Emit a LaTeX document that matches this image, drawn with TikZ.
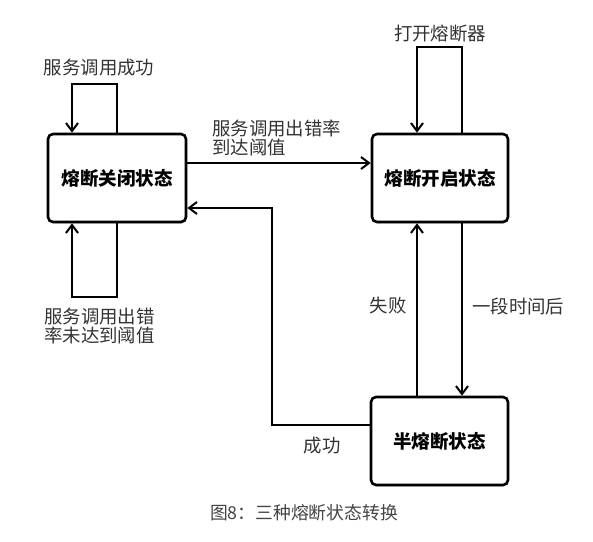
\documentclass[tikz,border=0pt]{standalone}
\usepackage{fontspec}
\newfontfamily\cjk{Noto Sans CJK SC}
\usetikzlibrary{arrows.meta,shadows}
\definecolor{lbl}{HTML}{333333}
\definecolor{cap}{HTML}{444444}
\tikzset{
  state/.style={draw=black,line width=2.6pt,rounded corners=5pt,fill=white,
    minimum width=#1,minimum height=88pt,inner sep=0pt,
    font=\cjk\bfseries\fontsize{18.5}{19}\selectfont,
    drop shadow={shadow xshift=1pt,shadow yshift=-1.5pt,opacity=0.35}},
  conn/.style={line width=2.2pt,-{Straight Barb[length=8pt,width=12pt,line width=2pt]}},
  lab/.style={text=lbl,inner sep=0pt,font=\cjk\fontsize{18.4}{18.5}\selectfont},
}
\begin{document}
\begin{tikzpicture}[x=1pt,y=-1pt]
\useasboundingbox (0,0) rectangle (593,541);
\node[state=138pt] (A) at (117,178) {熔断关闭状态};
\node[state=136pt] (B) at (440,178) {熔断开启状态};
\node[state=137pt] (C) at (439.5,441) {半熔断状态};
% A top loop
\coordinate (a1) at (117,84);
\coordinate (a2) at (72,84);
\draw[conn] (A.north) -- (a1) -- (a2) -- (a2 |- A.north);
\node[lab] (la1) at (99,68) {服务调用成功};
% A bottom loop
\coordinate (a3) at (117,297);
\coordinate (a4) at (72,297);
\draw[conn] (A.south) -- (a3) -- (a4) -- (a4 |- A.south);
\node[lab,anchor=north west,align=left] (la2) at (44,308) {服务调用出错\\率未达到阈值};
% B top loop
\coordinate (b1) at (462,47);
\coordinate (b2) at (417,47);
\draw[conn] (b1 |- B.north) -- (b1) -- (b2) -- (b2 |- B.north);
\node[lab] (lb1) at (440,33) {打开熔断器};
% A -> B
\coordinate (ab) at (200,163);
\draw[conn] (A.east |- ab) -- (B.west |- ab);
\node[lab,anchor=north west,align=left] (lab1) at (212,120) {服务调用出错率\\到达阈值};
% B -> C
\coordinate (bc) at (462,300);
\draw[conn] (bc |- B.south) -- (bc |- C.north);
\node[lab,anchor=west] (lbc) at (472,306) {一段时间后};
% C -> B
\coordinate (cb) at (417,300);
\draw[conn] (cb |- C.north) -- (cb |- B.south);
\node[lab] (lcb) at (388,306) {失败};
% C -> A
\coordinate (c1) at (272,425);
\coordinate (c2) at (272,208);
\draw[conn] (C.west |- c1) -- (c1) -- (c2) -- (A.east |- c2);
\node[lab] (lca) at (322,446) {成功};
% caption
\node[text=cap,inner sep=0pt,font=\cjk\fontsize{17.8}{18}\selectfont] (cap) at (304,513) {图8：三种熔断状态转换};
\end{tikzpicture}
\end{document}
